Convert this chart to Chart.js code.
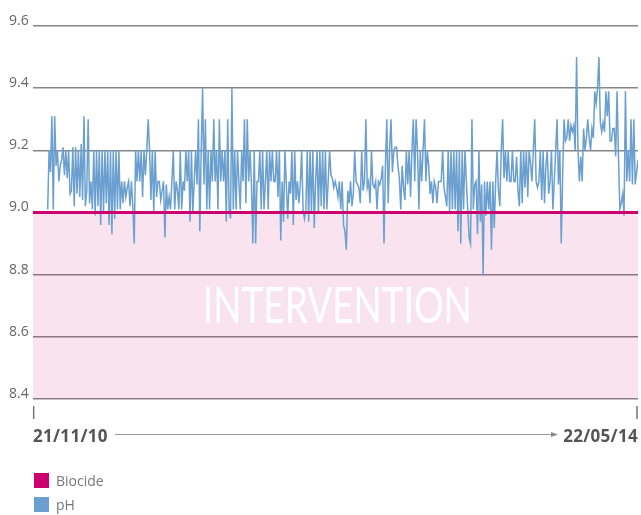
<!DOCTYPE html>
<html>
<head>
<meta charset="utf-8">
<script src="https://cdn.jsdelivr.net/npm/chart.js@4"></script>
<style>
body { margin: 0; background: #fff; font-family: "Open Sans", sans-serif; }
#wrap { position: relative; width: 641px; height: 515px; }
canvas { position: absolute; left: 0; top: 0; }
.date { position: absolute; top: 424px; font-weight: bold; font-size: 17px; color: #555; letter-spacing: 0.3px; }
.leg { position: absolute; left: 34px; font-size: 14px; color: #777; line-height: 15px; }
.leg span { display: inline-block; width: 15px; height: 15px; vertical-align: top; margin-right: 7px; }
</style>
</head>
<body>
<div id="wrap">
  <canvas id="grafico" width="641" height="515"></canvas>
  <div class="date" id="dataInicio" style="left:33px"></div>
  <div class="date" id="dataFim" style="right:3px"></div>
  <div class="leg" style="top:473px"><span style="background:#cc006e"></span>Biocide</div>
  <div class="leg" style="top:497px"><span style="background:#6a9fcf"></span>pH</div>
</div>
<script>
// pH readings, oldest first
const phValues = [
    // 21/11/10 ...
    9.01, 9.2, 9.13, 9.31, 9.01, 9.31, 9.15, 9.2, 9.1, 9.15, 9.17, 9.21, 9.12, 9.2, 9.11, 9.2, 9.06, 9.07, 9.21, 9.02,
    9.21, 9.06, 9.2, 9.05, 9.22, 9.04, 9.31, 9.02, 9.07, 9.3, 9.03, 9.1, 9.01, 9.2, 8.99, 9.2, 9.02, 9.2, 8.96, 9.2,
    9.0, 9.2, 9.03, 9.2, 8.96, 9.2, 8.93, 9.2, 8.98, 9.2, 9.01, 9.2, 9.01, 9.1, 9.03, 9.1, 9.05, 9.08, 9.1, 9.02,
    9.1, 9.02, 8.9, 9.2, 9.1, 9.2,
    9.1, 9.2, 9.05, 9.2, 9.12, 9.2, 9.3, 9.2, 9.04, 9.2, 9.0, 9.2, 9.05, 9.1, 9.1, 9.04, 9.07, 9.1, 8.92, 9.09,
    9.01, 9.05, 9.01, 9.1, 9.2, 9.01, 9.1, 9.07, 9.01, 9.2, 9.01, 9.1, 9.07, 9.2, 9.1, 9.2, 8.97, 9.2, 9.0, 9.1,
    9.2, 9.09, 9.3, 8.94, 9.2, 9.4, 9.09, 9.3, 9.01, 9.2, 9.01, 9.2, 9.1, 9.3, 9.1, 9.2, 9.01, 9.3, 9.1, 9.2,
    9.1, 9.2, 8.97, 9.3, 9.01, 8.98, 9.4, 9.01, 9.2, 9.01, 9.2, 9.1, 9.01, 9.2, 9.1,
    9.3, 9.03, 9.3, 9.1, 9.2, 9.09, 8.9, 9.2, 8.9, 9.1, 9.1, 9.2, 9.01, 9.2, 9.01, 9.1, 9.2, 9.01, 9.2, 9.1,
    9.2, 9.1, 9.1, 9.2, 9.05, 9.2, 8.91, 9.1, 8.97, 9.2, 9.09, 8.98, 9.1, 9.06, 9.2, 8.96, 9.2, 9.04, 9.1, 9.03,
    9.09, 9.2, 9.01, 8.98, 9.01, 9.2, 8.97, 9.2, 9.0, 9.2, 8.95, 9.1, 9.2, 9.0, 9.2, 9.02, 9.2, 9.01, 9.2, 9.01,
    9.1, 9.2, 9.12, 9.11, 9.08, 9.1, 9.08, 9.05, 9.1, 9.01, 9.1, 8.96, 8.94,
    8.88, 9.07, 9.03, 9.1, 9.02, 9.06, 9.2, 9.1, 9.09, 9.08, 9.03, 9.2, 9.07, 9.1, 9.3, 9.08, 9.1, 9.03, 9.2, 9.09,
    9.08, 9.1, 9.01, 9.1, 9.09, 9.11, 9.15, 8.9, 9.15, 9.3, 9.03, 9.2, 9.3, 9.13, 9.2, 9.21, 9.21, 9.15, 9.11, 9.01,
    9.15, 9.08, 9.04, 9.2, 9.09, 9.2, 9.05, 9.2, 9.3, 9.1, 9.3, 9.2, 9.01, 9.2, 9.1, 9.2, 9.3, 9.1, 9.2, 9.15,
    9.06, 9.1, 9.03, 9.1, 9.08, 9.03, 9.1, 9.1, 9.1, 9.2, 9.08, 9.05, 9.02, 9.2, 9.0, 9.2, 9.01, 9.2,
    9.01, 9.2, 8.94, 9.2, 8.9, 9.2, 9.01, 9.2, 9.1, 9.01, 8.92, 8.9, 9.3, 9.01, 9.09, 9.1, 8.93, 9.2, 8.97, 9.09,
    8.8, 9.1, 8.99, 9.1, 9.01, 9.1, 8.88, 9.1, 8.95, 9.1, 9.2, 9.07, 9.02, 9.2, 9.3, 9.11, 9.2, 9.1, 9.2, 9.1,
    9.1, 9.2, 9.1, 9.1, 9.18, 9.07, 9.02, 9.2, 9.03, 9.2, 9.08, 9.2, 9.05, 9.2, 9.16, 9.1, 9.2, 9.3, 9.1, 9.08,
    9.1, 9.2, 9.04, 9.2, 9.03, 9.15, 9.2, 9.06, 9.1, 9.2, 9.01, 9.1, 9.2, 9.3, 9.09, 9.2,
    8.9, 9.12, 9.3, 9.23, 9.24, 9.3, 9.23, 9.28, 9.26, 9.28, 9.2, 9.5, 9.2, 9.1, 9.18, 9.1, 9.27, 9.2, 9.24, 9.3,
    9.24, 9.2, 9.27, 9.24, 9.39, 9.35, 9.4, 9.5, 9.29, 9.26, 9.29, 9.26, 9.39, 9.31, 9.39, 9.23, 9.23, 9.27, 9.27, 9.18,
    9.39, 9.18, 9.01, 9.03, 9.06, 8.99, 9.39, 9.1, 9.2, 9.1, 9.3, 9.09, 9.3, 9.09, 9.13, 9.17
    // ... 22/05/14
];
const biocideLevel = 9.0;
const yTicks = [8.4, 8.6, 8.8, 9.0, 9.2, 9.4, 9.6];
const dataInicio = '21/11/10';
const dataFim = '22/05/14';
const textoZona = 'INTERVENTION';

const ultimo = phValues.length - 1;
const xMin = -15 * ultimo / 590; // first reading sits a little right of the axis

document.getElementById('dataInicio').textContent = dataInicio;
document.getElementById('dataFim').textContent = dataFim;

const extras = {
    id: 'extras',
    beforeDatasetsDraw(chart) {
        const { ctx, chartArea, scales } = chart;
        const y = scales.y.getPixelForValue((yTicks[0] + biocideLevel) / 2);
        ctx.save();
        ctx.fillStyle = '#ffffff';
        ctx.font = '400 50px Lato';
        ctx.textAlign = 'center';
        ctx.textBaseline = 'middle';
        ctx.fillText(textoZona, (chartArea.left + chartArea.right) / 2 + 2, y + 1, 269);
        ctx.restore();
    },
    afterDraw(chart) {
        const { ctx, chartArea } = chart;
        const yl = chartArea.bottom + 7;
        ctx.save();
        ctx.strokeStyle = '#777';
        ctx.lineWidth = 1.5;
        ctx.beginPath();
        ctx.moveTo(chartArea.left + 1, yl);
        ctx.lineTo(chartArea.left + 1, yl + 13);
        ctx.moveTo(chartArea.right - 1, yl);
        ctx.lineTo(chartArea.right - 1, yl + 13);
        ctx.stroke();
        // seta entre as datas
        const ya = chartArea.bottom + 35.5;
        ctx.strokeStyle = '#999';
        ctx.lineWidth = 1;
        ctx.beginPath();
        ctx.moveTo(115, ya);
        ctx.lineTo(553, ya);
        ctx.stroke();
        ctx.fillStyle = '#888';
        ctx.beginPath();
        ctx.moveTo(558, ya);
        ctx.lineTo(551, ya - 2.5);
        ctx.lineTo(551, ya + 2.5);
        ctx.closePath();
        ctx.fill();
        ctx.restore();
    }
};

const grafico = new Chart(document.getElementById('grafico').getContext('2d'), {
    type: 'line',
    data: {
        datasets: [
            {
                label: 'Biocide',
                data: [{ x: xMin, y: biocideLevel }, { x: ultimo, y: biocideLevel }],
                borderColor: '#cc006e',
                borderWidth: 3,
                backgroundColor: 'rgba(204, 0, 110, 0.11)',
                fill: 'start',
                pointRadius: 0
            },
            {
                label: 'pH',
                data: phValues.map((v, i) => ({ x: i, y: v })),
                borderColor: '#6a9fcf',
                borderWidth: 1.5,
                pointRadius: 0,
                tension: 0,
                fill: false
            }
        ]
    },
    options: {
        responsive: false,
        animation: false,
        layout: { padding: { top: 26, right: 3, bottom: 116, left: 5 } },
        plugins: {
            legend: { display: false },
            tooltip: { enabled: false },
            filler: { drawTime: 'beforeDatasetsDraw' }
        },
        scales: {
            x: {
                type: 'linear',
                min: xMin,
                max: ultimo,
                display: false
            },
            y: {
                min: yTicks[0],
                max: yTicks[yTicks.length - 1],
                afterBuildTicks(axis) {
                    axis.ticks = yTicks.map(v => ({ value: v }));
                },
                border: { display: false },
                grid: { color: '#868686', lineWidth: 1.5, drawTicks: false },
                ticks: {
                    padding: 4,
                    labelOffset: -5,
                    color: '#666',
                    font: { family: 'Open Sans', size: 14 },
                    callback: v => v.toFixed(1)
                }
            }
        }
    },
    plugins: [extras]
});
</script>
</body>
</html>
